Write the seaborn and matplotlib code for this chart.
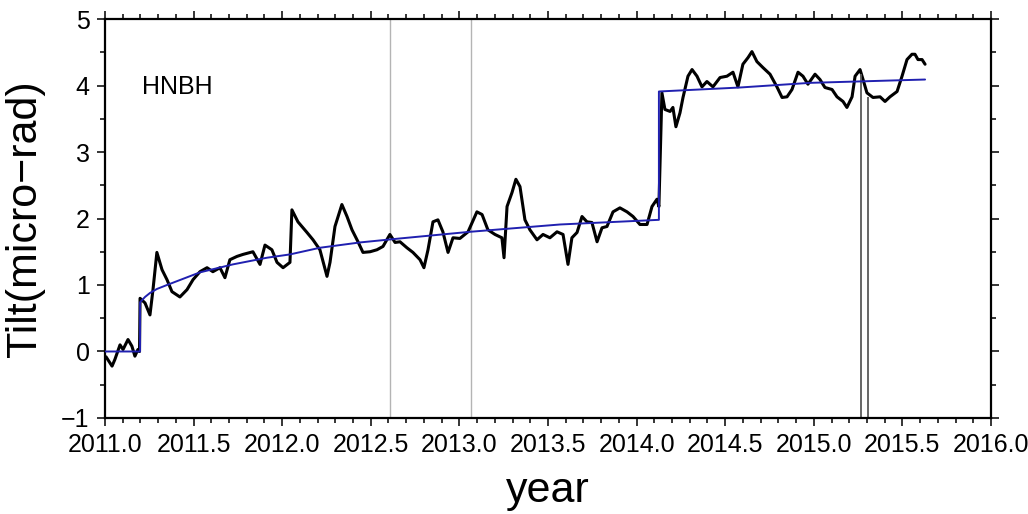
import numpy as np
import pandas as pd
import matplotlib
matplotlib.use("Agg")
import matplotlib.pyplot as plt
import seaborn as sns
from matplotlib.ticker import MultipleLocator

# Dados de inclinação
tilt_year = [
    2011.006, 2011.040, 2011.056, 2011.085, 2011.102, 2011.130, 2011.152, 2011.169,
    2011.186, 2011.195, 2011.198, 2011.226, 2011.254, 2011.271, 2011.293, 2011.322,
    2011.350, 2011.378, 2011.423, 2011.463, 2011.497, 2011.536, 2011.576, 2011.609,
    2011.649, 2011.677, 2011.705, 2011.745, 2011.779, 2011.835, 2011.875, 2011.903,
    2011.942, 2011.971, 2012.005, 2012.044, 2012.055, 2012.089, 2012.140, 2012.174,
    2012.213, 2012.253, 2012.270, 2012.298, 2012.337, 2012.366, 2012.394, 2012.428,
    2012.456, 2012.496, 2012.535, 2012.569, 2012.608, 2012.637, 2012.665, 2012.704,
    2012.738, 2012.778, 2012.800, 2012.823, 2012.851, 2012.879, 2012.907, 2012.936,
    2012.964, 2013.003, 2013.049, 2013.099, 2013.128, 2013.161, 2013.201, 2013.240,
    2013.252, 2013.269, 2013.297, 2013.319, 2013.342, 2013.370, 2013.398, 2013.438,
    2013.472, 2013.511, 2013.551, 2013.585, 2013.613, 2013.635, 2013.664, 2013.692,
    2013.720, 2013.748, 2013.777, 2013.805, 2013.833, 2013.867, 2013.906, 2013.946,
    2013.980, 2014.019, 2014.059, 2014.087, 2014.115, 2014.126, 2014.143, 2014.160,
    2014.189, 2014.205, 2014.222, 2014.245, 2014.262, 2014.290, 2014.313, 2014.341,
    2014.369, 2014.397, 2014.431, 2014.471, 2014.510, 2014.544, 2014.572, 2014.600,
    2014.629, 2014.651, 2014.679, 2014.713, 2014.753, 2014.792, 2014.821, 2014.849,
    2014.877, 2014.911, 2014.939, 2014.967, 2015.007, 2015.035, 2015.063, 2015.103,
    2015.131, 2015.165, 2015.187, 2015.216, 2015.233, 2015.261, 2015.278, 2015.300,
    2015.334, 2015.374, 2015.402, 2015.430, 2015.470, 2015.498, 2015.526, 2015.554,
    2015.571, 2015.588, 2015.611, 2015.628,
]
tilt_value = [
    -0.08, -0.22, -0.12, 0.10, 0.03, 0.18, 0.08, -0.07,
    0.03, 0.00, 0.80, 0.73, 0.55, 0.93, 1.49, 1.23,
    1.08, 0.90, 0.82, 0.93, 1.08, 1.20, 1.26, 1.20,
    1.26, 1.11, 1.38, 1.43, 1.46, 1.50, 1.31, 1.60,
    1.53, 1.34, 1.26, 1.34, 2.13, 1.95, 1.79, 1.68,
    1.53, 1.13, 1.34, 1.88, 2.21, 2.03, 1.83, 1.65,
    1.49, 1.50, 1.53, 1.58, 1.76, 1.64, 1.65, 1.56,
    1.49, 1.38, 1.26, 1.53, 1.95, 1.98, 1.80, 1.49,
    1.71, 1.70, 1.80, 2.10, 2.06, 1.83, 1.76, 1.71,
    1.41, 2.18, 2.39, 2.59, 2.48, 1.98, 1.83, 1.68,
    1.76, 1.71, 1.80, 1.76, 1.31, 1.71, 1.79, 2.03,
    1.95, 1.94, 1.65, 1.86, 1.88, 2.10, 2.16, 2.10,
    2.03, 1.91, 1.91, 2.18, 2.29, 2.18, 3.89, 3.64,
    3.61, 3.67, 3.38, 3.59, 3.82, 4.14, 4.24, 4.14,
    3.98, 4.06, 3.98, 4.12, 4.14, 4.20, 3.98, 4.32,
    4.42, 4.51, 4.36, 4.27, 4.17, 3.98, 3.82, 3.83,
    3.94, 4.20, 4.14, 4.02, 4.17, 4.09, 3.97, 3.94,
    3.83, 3.76, 3.67, 3.83, 4.14, 4.24, 4.09, 3.89,
    3.82, 3.83, 3.76, 3.83, 3.91, 4.14, 4.39, 4.47,
    4.47, 4.39, 4.39, 4.32,
]

# Modelo (linha azul)
model_year = [2011.0, 2011.198, 2011.198, 2011.226, 2011.254, 2011.293, 2011.350,
              2011.536, 2011.722, 2011.914, 2012.044, 2012.213, 2012.439, 2012.665,
              2013.060, 2013.568, 2014.126, 2014.126, 2014.583, 2014.979, 2015.628]
model_value = [0.0, 0.0, 0.74, 0.82, 0.88, 0.94, 1.00,
               1.19, 1.31, 1.41, 1.46, 1.56, 1.64, 1.70,
               1.80, 1.91, 1.98, 3.91, 3.97, 4.04, 4.09]

# Linhas verticais cinza e picos
gray_lines = [2012.608, 2013.065]
spike_year = [2015.266, 2015.306]
spike_top = [4.17, 3.82]

df_tilt = pd.DataFrame({'year': tilt_year, 'tilt': tilt_value})
df_model = pd.DataFrame({'year': model_year, 'tilt': model_value})

sns.set_style('ticks')
plt.rcParams['font.family'] = ['Liberation Sans', 'DejaVu Sans']
plt.rcParams['text.color'] = 'black'
plt.rcParams['axes.labelcolor'] = 'black'
plt.rcParams['xtick.color'] = 'black'
plt.rcParams['ytick.color'] = 'black'

fig = plt.figure(figsize=(10.28, 5.14), dpi=100)
ax = fig.add_axes([0.1021, 0.1868, 0.8619, 0.7762])

for x in gray_lines:
    ax.axvline(x, color='#b4b4b4', lw=1.0, zorder=1)

sns.lineplot(data=df_tilt, x='year', y='tilt', sort=False, estimator=None,
             color='black', lw=2.2, ax=ax, zorder=2)
ax.vlines(spike_year, -1.5, spike_top, color='#5a5a5a', lw=1.3, zorder=2)
sns.lineplot(data=df_model, x='year', y='tilt', sort=False, estimator=None,
             color='#2020b0', lw=1.4, ax=ax, zorder=3)

ax.text(2011.21, 3.98, 'HNBH', fontsize=18, ha='left', va='center', color='black')

# Eixos
ax.set_xlim(2011.0, 2016.0)
ax.set_ylim(-1, 5)
ax.xaxis.set_major_locator(MultipleLocator(0.5))
ax.xaxis.set_minor_locator(MultipleLocator(0.1))
ax.yaxis.set_major_locator(MultipleLocator(1))
ax.yaxis.set_minor_locator(MultipleLocator(0.5))
ax.xaxis.set_major_formatter(lambda v, p: f'{v:.1f}')
ax.yaxis.set_major_formatter(lambda v, p: f'{v:.0f}'.replace('-', '\u2212'))
ax.tick_params(which='both', direction='out', top=True, right=True,
               width=1.1, color='black', labelcolor='black', labelsize=18, pad=5)
ax.tick_params(which='major', length=6)
ax.tick_params(which='minor', length=3.5)
for s in ax.spines.values():
    s.set_linewidth(1.6)
    s.set_color('black')

ax.set_xlabel('year', fontsize=31, labelpad=10, color='black')
ax.set_ylabel('Tilt(micro\u2212rad)', fontsize=31, labelpad=12, color='black')

plt.savefig('out.png', dpi=100)
